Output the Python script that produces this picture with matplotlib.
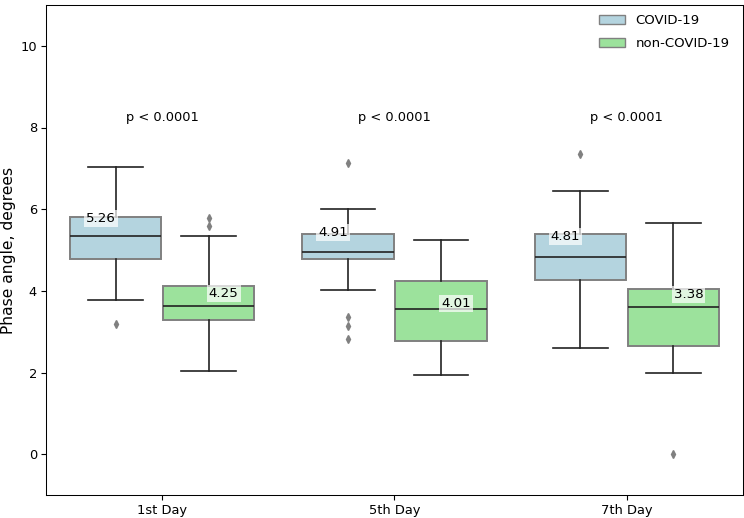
import colorsys
import matplotlib
matplotlib.use("Agg")
import matplotlib.pyplot as plt
import matplotlib.colors as mcolors
from matplotlib.patches import Patch

categories = ["1st Day", "5th Day", "7th Day"]
groups = ["COVID-19", "non-COVID-19"]

# five-number summaries: lower whisker, Q1, median, Q3, upper whisker
covid_whislo = [3.78, 4.01, 2.59]
covid_q1 = [4.79, 4.77, 4.26]
covid_med = [5.34, 4.96, 4.82]
covid_q3 = [5.81, 5.39, 5.39]
covid_whishi = [7.03, 6.00, 6.44]
covid_fliers = [[3.18], [7.13, 3.36, 3.13, 2.82], [7.34]]
covid_means = [5.26, 4.91, 4.81]
covid_label_y = [5.78, 5.43, 5.33]

non_whislo = [2.04, 1.94, 1.99]
non_q1 = [3.28, 2.78, 2.65]
non_med = [3.64, 3.56, 3.60]
non_q3 = [4.11, 4.23, 4.05]
non_whishi = [5.34, 5.25, 5.67]
non_fliers = [[5.78, 5.59], [], [0.0]]
non_means = [4.25, 4.01, 3.38]
non_label_y = [3.94, 3.69, 3.92]

p_labels = ["p < 0.0001", "p < 0.0001", "p < 0.0001"]

plt.rcParams.update({
    "font.size": 9.4,
    "xtick.major.size": 3.3,
    "ytick.major.size": 3.3,
    "xtick.major.pad": 3.2,
    "ytick.major.pad": 3.2,
    "axes.linewidth": 0.75,
})


def desat(c, prop=0.75):
    r, g, b = mcolors.to_rgb(c)
    h, l, s = colorsys.rgb_to_hls(r, g, b)
    return colorsys.hls_to_rgb(h, l, s * prop)


colors = [desat("lightblue"), desat("lightgreen")]

fig = plt.figure(figsize=(7.44, 5.18), dpi=100)
ax = fig.add_axes([46 / 744, 1 - 495 / 518, (743 - 46) / 744, (495 - 5) / 518])


def stats(lo, q1, med, q3, hi, fl):
    return [dict(whislo=a, q1=b, med=c, q3=d, whishi=e, fliers=f)
            for a, b, c, d, e, f in zip(lo, q1, med, q3, hi, fl)]


sets = [
    stats(covid_whislo, covid_q1, covid_med, covid_q3, covid_whishi, covid_fliers),
    stats(non_whislo, non_q1, non_med, non_q3, non_whishi, non_fliers),
]
offsets = [-0.2, 0.2]
bw = 0.392
for k, st in enumerate(sets):
    pos = [i + offsets[k] for i in range(len(categories))]
    ax.bxp(st, positions=pos, widths=bw, patch_artist=True, showfliers=True,
           boxprops=dict(facecolor=colors[k], edgecolor="#808080", linewidth=1.4),
           medianprops=dict(color="#222222", linewidth=1.2),
           whiskerprops=dict(color="#222222", linewidth=1.2),
           capprops=dict(color="#222222", linewidth=1.2),
           flierprops=dict(marker="d", markerfacecolor="#808080",
                           markeredgecolor="#808080", markersize=3.7),
           capwidths=bw * 0.6, manage_ticks=False)

lab_dx = [-0.265, 0.265]
for k, (means, ly) in enumerate([(covid_means, covid_label_y), (non_means, non_label_y)]):
    for i, (m, y) in enumerate(zip(means, ly)):
        ax.text(i + lab_dx[k], y, f"{m:.2f}", ha="center", va="center", fontsize=9.6,
                bbox=dict(boxstyle="square,pad=0.15", facecolor="white",
                          edgecolor="none", alpha=0.7))

for i, p in enumerate(p_labels):
    ax.text(i, 8.25, p, ha="center", va="center", fontsize=9.4)

ax.set_xlim(-0.5, len(categories) - 0.5)
ax.set_ylim(-1, 11)
ax.set_xticks(range(len(categories)))
ax.set_xticklabels(categories)
ax.set_yticks([0, 2, 4, 6, 8, 10])
ax.set_ylabel("Phase angle, degrees", fontsize=11.2, labelpad=3)

handles = [Patch(facecolor=colors[k], edgecolor="#808080", label=groups[k]) for k in range(2)]
ax.legend(handles=handles, loc="upper right", frameon=False, fontsize=9.5,
          labelspacing=0.75, bbox_to_anchor=(0.998, 1.006))

fig.savefig("out.png", dpi=100)
